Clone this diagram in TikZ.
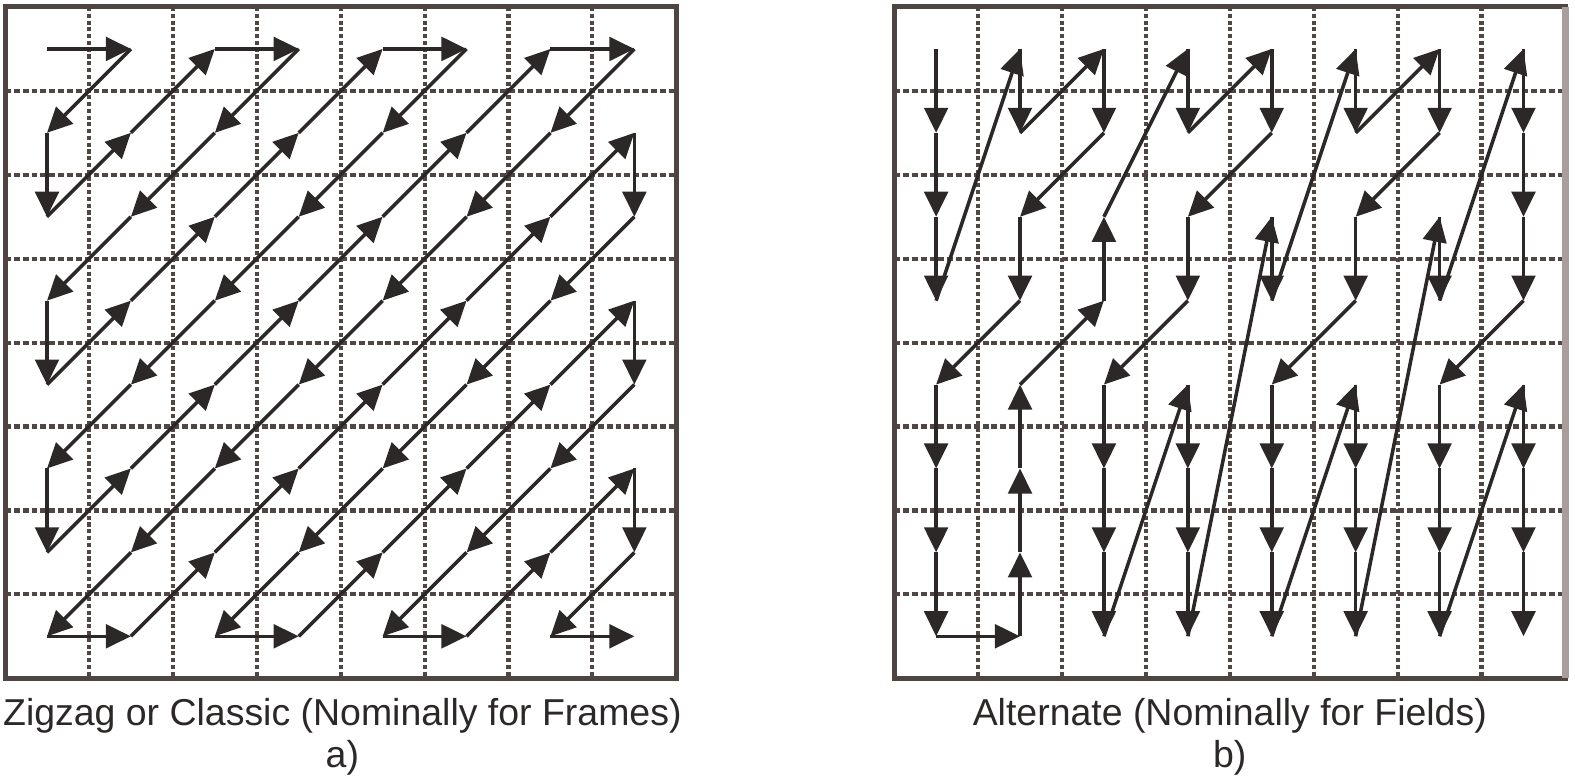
\documentclass[tikz,border=0pt]{standalone}
\usepackage{fontspec}
\setmainfont{Liberation Sans}
\usetikzlibrary{arrows.meta}

\definecolor{ink}{RGB}{44,40,40}
\definecolor{frameink}{RGB}{78,68,66}
\definecolor{gridink}{RGB}{80,70,68}
\definecolor{edgeink}{RGB}{170,158,154}

\tikzset{
  scan/.style={draw=ink, line width=1.2pt, -{Triangle[length=8.5pt,width=8pt]}},
  vgrid/.style={draw=gridink, line width=1.4pt, dash pattern=on 1.4pt off 0.9pt},
  hgrid/.style={draw=gridink, line width=1.4pt, dash pattern=on 2pt off 1pt},
  frame/.style={draw=frameink, line width=1.7pt},
  caption/.style={font=\fontsize{12.7}{15}\selectfont, text=ink, anchor=base},
}

\begin{document}
\begin{tikzpicture}
  \useasboundingbox (-0.06,0.083) rectangle (18.71,-9.226);
  \foreach \ox/\pre in {0/zz, 10.596/alt} {
    \foreach \k in {1,...,7} {
      \draw[vgrid] (\ox+\k,0) -- (\ox+\k,-8);
      \draw[hgrid] (\ox,-\k) -- (\ox+8,-\k);
    }
    \draw[frame] (\ox,0) rectangle (\ox+8,-8);
    \foreach \i in {0,...,7}
      \foreach \j in {0,...,7}
        \coordinate (\pre-\i-\j) at (\ox+\i+0.5,-\j-0.5);
  }
  \draw[draw=edgeink, line width=2.2pt] (18.596,0) -- (18.596,-8);

  \foreach \c [remember=\c as \p (initially 0-0)] in {1-0, 0-1, 0-2, 1-1, 2-0, 3-0, 2-1, 1-2,
      0-3, 0-4, 1-3, 2-2, 3-1, 4-0, 5-0, 4-1, 3-2, 2-3, 1-4, 0-5, 0-6, 1-5, 2-4, 3-3, 4-2,
      5-1, 6-0, 7-0, 6-1, 5-2, 4-3, 3-4, 2-5, 1-6, 0-7, 1-7, 2-6, 3-5, 4-4, 5-3, 6-2, 7-1,
      7-2, 6-3, 5-4, 4-5, 3-6, 2-7, 3-7, 4-6, 5-5, 6-4, 7-3, 7-4, 6-5, 5-6, 4-7, 5-7, 6-6,
      7-5, 7-6, 6-7, 7-7}
    \draw[scan] (zz-\p) -- (zz-\c);

  \foreach \c [remember=\c as \p (initially 0-0)] in {0-1, 0-2, 0-3, 1-0, 1-1, 2-0, 2-1, 1-2,
      1-3, 0-4, 0-5, 0-6, 0-7, 1-7, 1-6, 1-5, 1-4, 2-3, 2-2, 3-0, 3-1, 4-0, 4-1, 3-2, 3-3,
      2-4, 2-5, 2-6, 2-7, 3-4, 3-5, 3-6, 3-7, 4-2, 4-3, 5-0, 5-1, 6-0, 6-1, 5-2, 5-3, 4-4,
      4-5, 4-6, 4-7, 5-4, 5-5, 5-6, 5-7, 6-2, 6-3, 7-0, 7-1, 7-2, 7-3, 6-4, 6-5, 6-6, 6-7,
      7-4, 7-5, 7-6, 7-7}
    \draw[scan] (alt-\p) -- (alt-\c);

  \node[caption] (zzcap) at (4.02,-8.558) {Zigzag or Classic (Nominally for Frames)};
  \node[caption] (zzsub) at (4.02,-9.06) {a)};
  \node[caption] (altcap) at (14.596,-8.558) {Alternate (Nominally for Fields)};
  \node[caption] (altsub) at (14.596,-9.06) {b)};
\end{tikzpicture}
\end{document}
